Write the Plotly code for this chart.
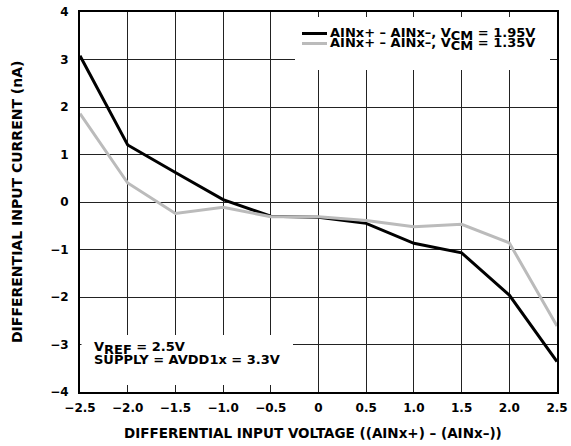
import plotly.graph_objects as go

# ---- data ----
x_voltage = [-2.5, -2.0, -1.5, -1.0, -0.5, 0.0, 0.5, 1.0, 1.5, 2.0, 2.5]
i_vcm_195 = [3.08, 1.20, 0.62, 0.05, -0.30, -0.32, -0.45, -0.87, -1.07, -1.96, -3.36]
i_vcm_135 = [1.86, 0.40, -0.24, -0.11, -0.31, -0.31, -0.39, -0.52, -0.47, -0.86, -2.61]

x_tick_vals = [-2.5, -2.0, -1.5, -1.0, -0.5, 0, 0.5, 1.0, 1.5, 2.0, 2.5]
x_tick_text = ["\u22122.5", "\u22122.0", "\u22121.5", "\u22121.0", "\u22120.5", "0",
               "0.5", "1.0", "1.5", "2.0", "2.5"]
y_tick_vals = [4, 3, 2, 1, 0, -1, -2, -3, -4]
y_tick_text = ["4", "3", "2", "1", "0", "\u22121", "\u22122", "\u22123", "\u22124"]

series_names = ["AINx+ \u2013 AINx\u2013, V<sub><span style='font-size:13px'>CM</span></sub> = 1.95V",
                "AINx+ \u2013 AINx\u2013, V<sub><span style='font-size:13px'>CM</span></sub> = 1.35V"]
series_colors = ["#000000", "#bbbbbb"]

FONT = "DejaVu Sans, Liberation Sans, Arial, sans-serif"

fig = go.Figure()
fig.add_trace(go.Scatter(x=x_voltage, y=i_vcm_195, mode="lines",
                         line=dict(color=series_colors[0], width=3), showlegend=False))
fig.add_trace(go.Scatter(x=x_voltage, y=i_vcm_135, mode="lines",
                         line=dict(color=series_colors[1], width=3), showlegend=False))

W, H = 571, 446
L, R, T, B = 80, 14, 12, 54
PW, PH = W - L - R, H - T - B


def px(xp):
    return (xp - L) / PW


def py(yp):
    return (H - B - yp) / PH


shapes = [
    # legend box
    dict(type="rect", xref="paper", yref="paper", x0=px(295), x1=px(550), y0=py(70), y1=py(17),
         fillcolor="white", line=dict(width=0), layer="above"),
    # conditions box
    dict(type="rect", xref="paper", yref="paper", x0=px(81.5), x1=px(293), y0=py(385), y1=py(335),
         fillcolor="white", line=dict(width=0), layer="above"),
    # legend line samples
    dict(type="line", xref="paper", yref="paper", x0=px(302), x1=px(327), y0=py(33.5), y1=py(33.5),
         line=dict(color=series_colors[0], width=3), layer="above"),
    dict(type="line", xref="paper", yref="paper", x0=px(302), x1=px(327), y0=py(43.5), y1=py(43.5),
         line=dict(color=series_colors[1], width=3), layer="above"),
]

annotations = [
    dict(text=series_names[0], xref="paper", yref="paper", x=px(328), y=py(33.5),
         xanchor="left", yanchor="middle", showarrow=False,
         font=dict(family=FONT, size=13, color="black", weight="bold")),
    dict(text=series_names[1], xref="paper", yref="paper", x=px(328), y=py(44),
         xanchor="left", yanchor="middle", showarrow=False,
         font=dict(family=FONT, size=13, color="black", weight="bold")),
    dict(text="V<sub><span style='font-size:13px'>REF</span></sub> = 2.5V", xref="paper", yref="paper",
         x=px(92), y=py(348), xanchor="left", yanchor="middle", showarrow=False,
         font=dict(family=FONT, size=13, color="black", weight="bold")),
    dict(text="SUPPLY = AVDD1x = 3.3V", xref="paper", yref="paper",
         x=px(92), y=py(359), xanchor="left", yanchor="middle", showarrow=False,
         font=dict(family=FONT, size=13, color="black", weight="bold")),
    dict(text="DIFFERENTIAL INPUT VOLTAGE ((AINx+) \u2013 (AINx\u2013))", xref="paper", yref="paper",
         x=px(313), y=py(433), xanchor="center", yanchor="middle", showarrow=False,
         font=dict(family=FONT, size=13.5, color="black", weight="bold")),
    dict(text="DIFFERENTIAL INPUT CURRENT (nA)", xref="paper", yref="paper",
         x=px(17), y=0.5, xanchor="center", yanchor="middle", textangle=-90, showarrow=False,
         font=dict(family=FONT, size=14, color="black", weight="bold")),
]

axis_common = dict(showline=True, linecolor="black", linewidth=2, mirror=True,
                   showgrid=True, gridcolor="#222222", gridwidth=1, zeroline=False,
                   tickfont=dict(family=FONT, size=12, color="black", weight="bold"),
                   ticks="", tickmode="array")

fig.update_layout(
    width=W, height=H,
    margin=dict(l=L, r=R, t=T, b=B, autoexpand=False),
    paper_bgcolor="white", plot_bgcolor="white",
    xaxis=dict(range=[-2.5, 2.5], tickvals=x_tick_vals, ticktext=x_tick_text,
               ticklabelstandoff=4, **axis_common),
    yaxis=dict(range=[-4, 4], tickvals=y_tick_vals, ticktext=y_tick_text,
               ticklabelstandoff=7, **axis_common),
    shapes=shapes, annotations=annotations, showlegend=False,
)

fig.write_html("out.html", config={"displayModeBar": False},
               post_script="document.body.style.margin='0';document.body.style.overflow='hidden';")
